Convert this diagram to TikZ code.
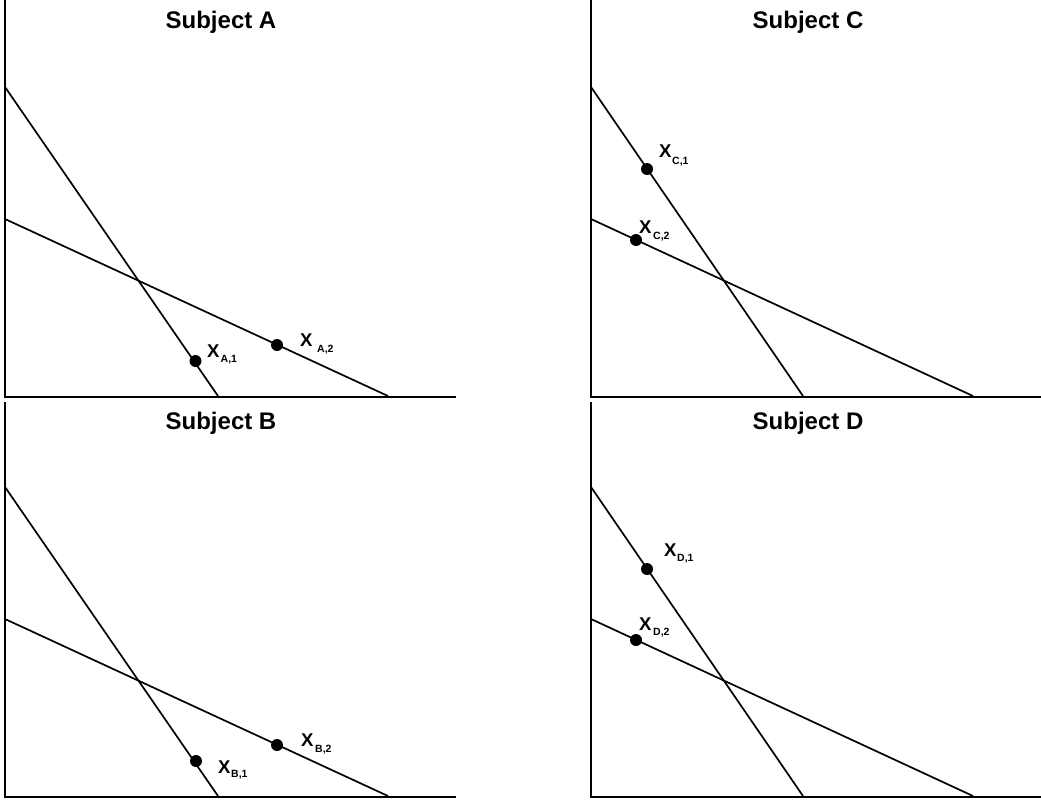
\documentclass[tikz,border=0pt]{standalone}
\usepackage{fontspec}
\setmainfont{Liberation Sans}
\begin{document}
\begin{tikzpicture}[x=1pt,y=-1pt,
  axis/.style={line width=2pt,line cap=butt},
  budget/.style={line width=1.7pt},
  dotpt/.style={circle,fill=black,inner sep=0pt,minimum size=12pt},
  ttl/.style={font=\fontsize{24}{24}\selectfont\bfseries,inner sep=0pt,anchor=base},
  xlbl/.style={font=\fontsize{18.5}{18.5}\selectfont\bfseries,inner sep=0pt,anchor=base west},
  sublbl/.style={font=\fontsize{10.5}{10.5}\selectfont\bfseries,inner sep=0pt,anchor=base west}]
\fill[white] (0,0) rectangle (1041,800);
\useasboundingbox (0,0) rectangle (1041,800);
% ---------- axes ----------
\draw[axis] (5,0) -- (5,396.5) -- (456,396.5);
\draw[axis] (590.5,0) -- (590.5,396.5) -- (1041,396.5);
\draw[axis] (5,402) -- (5,796.5) -- (456,796.5);
\draw[axis] (590.5,402) -- (590.5,796.5) -- (1041,796.5);
% ---------- titles ----------
\node[ttl] (ta) at (221,29) {Subject A};
\node[ttl] (tc) at (808,29) {Subject C};
\node[ttl] (tb) at (221,429) {Subject B};
\node[ttl] (td) at (808,429) {Subject D};
% ---------- Subject A ----------
\coordinate (a1s) at (5,87);   \coordinate (a1e) at (218,396);
\coordinate (a2s) at (5,219);  \coordinate (a2e) at (388,396);
\draw[budget] (a1s) -- (a1e);
\draw[budget] (a2s) -- (a2e);
\node[dotpt] (xa1) at (195.5,361) {};
\node[dotpt] (xa2) at (277,345) {};
\node[xlbl] (xa1x) at (207,357) {X};
\node[sublbl] (xa1s) at (220.5,362) {A,1};
\node[xlbl] (xa2x) at (300,346) {X};
\node[sublbl] (xa2s) at (317,352) {A,2};
% ---------- Subject B ----------
\coordinate (b1s) at (5,487);   \coordinate (b1e) at (218,796);
\coordinate (b2s) at (5,619);   \coordinate (b2e) at (388,796);
\draw[budget] (b1s) -- (b1e);
\draw[budget] (b2s) -- (b2e);
\node[dotpt] (xb1) at (196,761) {};
\node[dotpt] (xb2) at (277,745) {};
\node[xlbl] (xb1x) at (218,773) {X};
\node[sublbl] (xb1s) at (231,777) {B,1};
\node[xlbl] (xb2x) at (301,746) {X};
\node[sublbl] (xb2s) at (315,752) {B,2};
% ---------- Subject C ----------
\coordinate (c1s) at (591,87);   \coordinate (c1e) at (803,396);
\coordinate (c2s) at (591,219);  \coordinate (c2e) at (973,396);
\draw[budget] (c1s) -- (c1e);
\draw[budget] (c2s) -- (c2e);
\node[dotpt] (xc1) at (647,169) {};
\node[dotpt] (xc2) at (636,240) {};
\node[xlbl] (xc1x) at (659,157) {X};
\node[sublbl] (xc1s) at (672,164) {C,1};
\node[xlbl] (xc2x) at (639,233) {X};
\node[sublbl] (xc2s) at (653,239) {C,2};
% ---------- Subject D ----------
\coordinate (d1s) at (591,487);   \coordinate (d1e) at (803,796);
\coordinate (d2s) at (591,619);   \coordinate (d2e) at (973,796);
\draw[budget] (d1s) -- (d1e);
\draw[budget] (d2s) -- (d2e);
\node[dotpt] (xd1) at (647,569) {};
\node[dotpt] (xd2) at (636,640) {};
\node[xlbl] (xd1x) at (664,556) {X};
\node[sublbl] (xd1s) at (677,561) {D,1};
\node[xlbl] (xd2x) at (639,630) {X};
\node[sublbl] (xd2s) at (653,635) {D,2};
\end{tikzpicture}
\end{document}
